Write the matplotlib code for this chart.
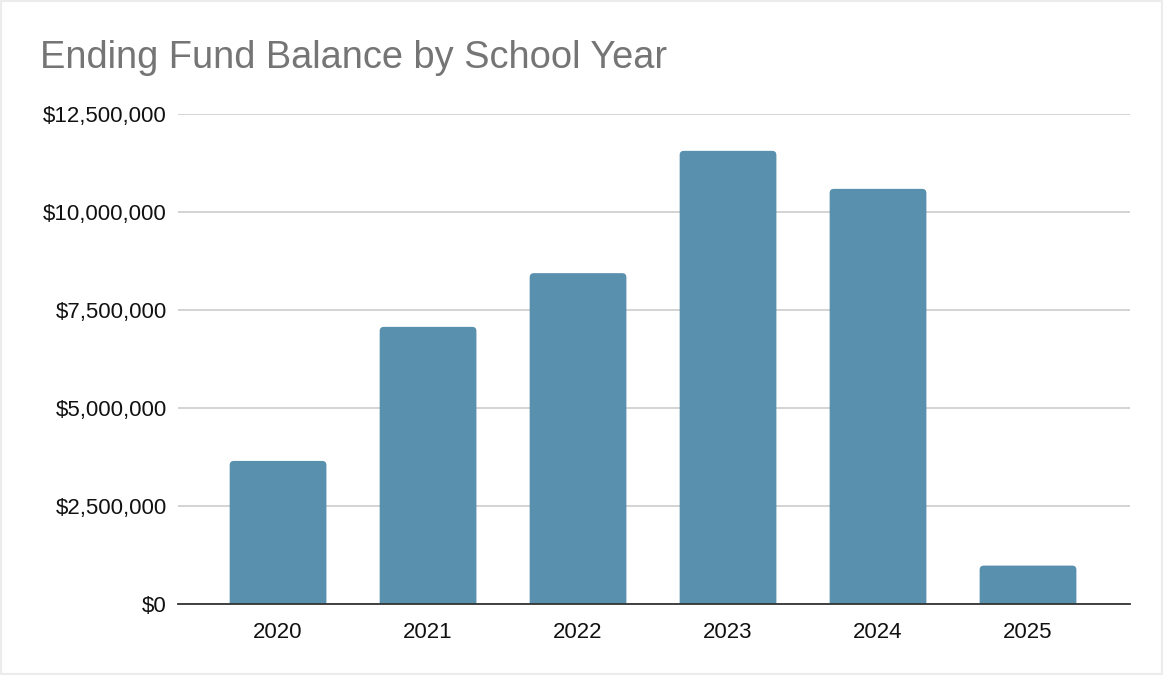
import matplotlib.pyplot as plt
from matplotlib.patches import FancyBboxPatch
from matplotlib.ticker import FuncFormatter

# Ending fund balance per school year (dollars)
years = ["2020", "2021", "2022", "2023", "2024", "2025"]
balances = [3650000, 7070000, 8440000, 11560000, 10590000, 980000]
y_ticks = [0, 2500000, 5000000, 7500000, 10000000, 12500000]

W, H = 1163, 675
fig = plt.figure(figsize=(W / 100, H / 100), dpi=100)
fig.patch.set_facecolor("white")
plt.rcParams["font.family"] = ["Liberation Sans", "DejaVu Sans"]

ax = fig.add_axes([178 / W, 1 - 604 / H, (1130 - 178) / W, (604 - 114) / H])
x = range(len(years))
bars = ax.bar(x, balances, width=0.645, color="#5990ae", zorder=3)

ax.set_xlim(-0.667, len(years) - 1 + 0.68)
ax.set_ylim(0, 12500000)

# swap the plain rectangles for ones with slightly rounded top corners
rx = 0.028                       # corner radius in x data units
aspect = 12500000 / 490 * 150    # y units per x unit on screen
for rect in bars:
    rect.set_visible(False)
    x0, w, h = rect.get_x(), rect.get_width(), rect.get_height()
    extra = rx * aspect
    patch = FancyBboxPatch((x0 + rx, -extra + rx * aspect), w - 2 * rx,
                           h + extra - 2 * rx * aspect,
                           boxstyle=f"round,pad={rx},rounding_size={rx}",
                           mutation_aspect=aspect,
                           facecolor="#5990ae", edgecolor="none", zorder=3)
    ax.add_patch(patch)

ax.set_yticks(y_ticks)
ax.yaxis.set_major_formatter(FuncFormatter(lambda v, _: f"${v:,.0f}"))
ax.set_xticks(list(x))
ax.set_xticklabels(years)

ax.grid(axis="y", color="#cccccc", linewidth=1.2, zorder=0)
ax.tick_params(axis="both", length=0, labelsize=16, colors="#111111")
ax.tick_params(axis="y", pad=8)
ax.tick_params(axis="x", pad=13)
for side in ("top", "right", "left"):
    ax.spines[side].set_visible(False)
ax.spines["bottom"].set_color("#333333")
ax.spines["bottom"].set_linewidth(1.3)
ax.spines["bottom"].set_zorder(4)

fig.text(40 / W, 1 - 58 / H, "Ending Fund Balance by School Year",
         fontsize=27.4, color="#757575", ha="left", va="center")

# thin light frame around the chart
fig.patches.append(plt.Rectangle((0, 0), 1, 1, transform=fig.transFigure,
                                 fill=False, edgecolor="#ececec", linewidth=3))

fig.savefig("out.png", dpi=100)
